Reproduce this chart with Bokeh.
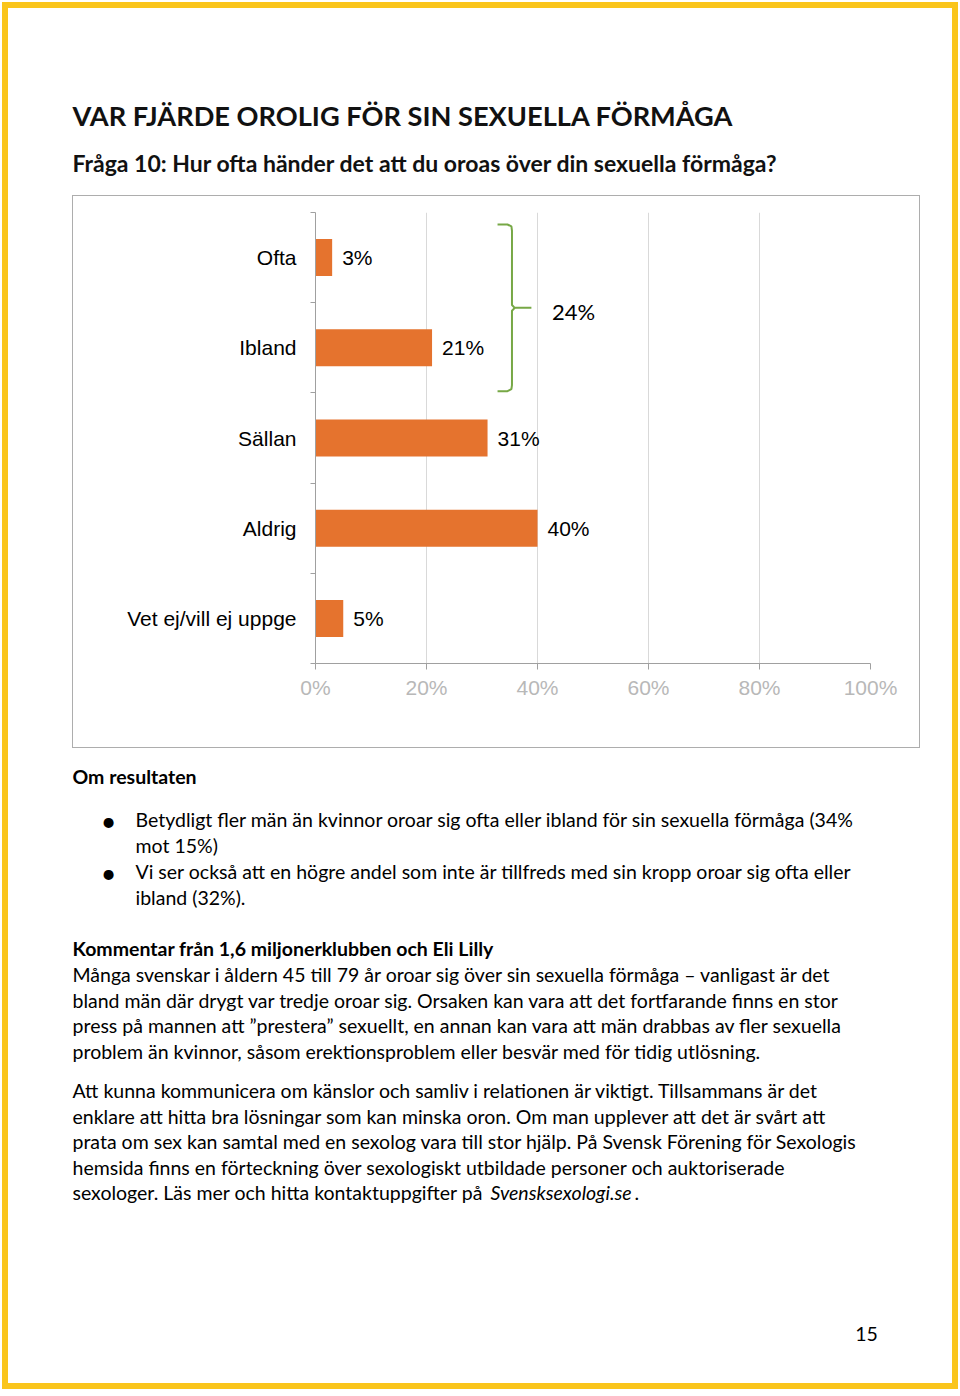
from bokeh.plotting import figure
from bokeh.models import (Range1d, LinearAxis, FixedTicker, InlineStyleSheet,
                          Label, ColumnDataSource, Grid)
from bokeh.core.properties import value
from bokeh.embed import file_html
from bokeh.resources import INLINE

# ---------------- data ----------------
categories = ["Ofta", "Ibland", "Sällan", "Aldrig", "Vet ej/vill ej uppge"]
values = [3, 21, 31, 40, 5]
x_ticks = [0, 20, 40, 60, 80, 100]
x_tick_labels = ["0%", "20%", "40%", "60%", "80%", "100%"]
bracket_group = ["Ofta", "Ibland"]

title = "VAR FJÄRDE OROLIG FÖR SIN SEXUELLA FÖRMÅGA"
subtitle = "Fråga 10: Hur ofta händer det att du oroas över din sexuella förmåga?"
heading1 = "Om resultaten"
bullets = [
    ["Betydligt fler män än kvinnor oroar sig ofta eller ibland för sin sexuella förmåga (34%",
     "mot 15%)"],
    ["Vi ser också att en högre andel som inte är tillfreds med sin kropp oroar sig ofta eller",
     "ibland (32%)."],
]
heading2 = "Kommentar från 1,6 miljonerklubben och Eli Lilly"
para1 = [
    "Många svenskar i åldern 45 till 79 år oroar sig över sin sexuella förmåga – vanligast är det",
    "bland män där drygt var tredje oroar sig. Orsaken kan vara att det fortfarande finns en stor",
    "press på mannen att ”prestera” sexuellt, en annan kan vara att män drabbas av fler sexuella",
    "problem än kvinnor, såsom erektionsproblem eller besvär med för tidig utlösning.",
]
para2 = [
    "Att kunna kommunicera om känslor och samliv i relationen är viktigt. Tillsammans är det",
    "enklare att hitta bra lösningar som kan minska oron. Om man upplever att det är svårt att",
    "prata om sex kan samtal med en sexolog vara till stor hjälp. På Svensk Förening för Sexologis",
    "hemsida finns en förteckning över sexologiskt utbildade personer och auktoriserade",
]
last_line = "sexologer. Läs mer och hitta kontaktuppgifter på "
link_text = "Svensksexologi.se"
page_number = "15"

# ---------------- styles ----------------
BODY_FONT = "Lato"
CHART_FONT = "Liberation Sans"
BAR_COLOR = "#E5732E"
AX_COLOR = "#A0A0A0"

n = len(categories)
centers = [i + 0.5 for i in range(n)]        # category slots, first at top
bounds = list(range(n + 1))

page_css = InlineStyleSheet(css="""
:host { position: relative; }
:host::after { content: ""; position: absolute; left: 2px; top: 2px;
  width: 944px; height: 1375px; border: 6px solid #FAC51C;
  z-index: 50; pointer-events: none; }
:host::before { content: ""; position: absolute; left: 72px; top: 195px;
  width: 846px; height: 551px; border: 1px solid #ADADAD;
  z-index: 50; pointer-events: none; }
""")

p = figure(frame_width=555, frame_height=451,
           min_border_left=315, min_border_right=90,
           min_border_top=212, min_border_bottom=733,
           x_range=Range1d(0, 100),
           y_range=Range1d(n, 0),
           x_axis_location=None, y_axis_location=None,
           toolbar_location=None, output_backend="svg",
           stylesheets=[page_css])
p.outline_line_color = None
p.background_fill_color = "white"
p.border_fill_color = "white"
p.xgrid.visible = False
p.ygrid.visible = False

grid = Grid(dimension=0, ticker=FixedTicker(ticks=x_ticks[1:]),
            grid_line_color="#D9D9D9", grid_line_width=1)
p.add_layout(grid)

# x axis
xaxis = LinearAxis(ticker=FixedTicker(ticks=x_ticks),
                   major_label_overrides={t: l for t, l in zip(x_ticks, x_tick_labels)},
                   axis_line_color=AX_COLOR, major_tick_line_color=AX_COLOR,
                   major_tick_out=6, major_tick_in=0, minor_tick_out=0, minor_tick_in=0,
                   major_label_standoff=6,
                   major_label_text_font=CHART_FONT, major_label_text_font_size="21px",
                   major_label_text_color="#B8B8B8")
p.add_layout(xaxis, "below")

# y axis: labels at category centres, small ticks at category boundaries
yaxis = LinearAxis(ticker=FixedTicker(ticks=centers, minor_ticks=bounds),
                   major_label_overrides={c: cat for c, cat in zip(centers, categories)},
                   axis_line_color=AX_COLOR, major_tick_line_color=None,
                   major_tick_out=0, major_tick_in=0,
                   minor_tick_line_color=AX_COLOR, minor_tick_out=5, minor_tick_in=0,
                   major_label_standoff=14,
                   major_label_text_font=CHART_FONT, major_label_text_font_size="21px",
                   major_label_text_color="black")
p.add_layout(yaxis, "left")

# bars
src = ColumnDataSource(dict(pos=centers, val=values,
                            lab=[f"{v}%" for v in values]))
p.hbar(y="pos", left=0, right="val", height=0.41, source=src,
       fill_color=BAR_COLOR, line_color=None)
p.text(x="val", y="pos", text="lab", source=src, x_offset=10,
       text_baseline="middle", text_align="left",
       text_font=value(CHART_FONT), text_font_size="21px", text_color="black")

# bracket for Ofta + Ibland
bx = [[32.8, 34.6, 35.3, 35.4, 35.4, 35.9, 38.9],
      [35.9, 35.4, 35.4, 35.3, 34.6, 32.8]]
by = [[0.133, 0.133, 0.155, 0.20, 1.025, 1.057, 1.057],
      [1.057, 1.089, 1.914, 1.959, 1.981, 1.981]]
p.multi_line(xs=bx, ys=by, line_color="#77A846", line_width=2)
group_total = sum(v for c, v in zip(categories, values) if c in bracket_group)
p.add_layout(Label(x=46.5, y=1.10, text=f"{group_total}%", text_align="center",
                   text_baseline="alphabetic", text_font=BODY_FONT,
                   text_font_size="22px", text_color="black"))


# ---------------- page text (canvas units, placed in side panels) ----------------
def lab(text, px, py, size, style="normal", align="left", font=BODY_FONT,
        color="black", side="below"):
    p.add_layout(Label(x=px, y=py, x_units="canvas", y_units="canvas",
                       text=text, text_font=font, text_font_size=f"{size}px",
                       text_font_style=style, text_align=align,
                       text_baseline="alphabetic", text_color=color), side)


lab(title, 72, 115, 27.2, "bold", color="#111111", side="above")
lab(subtitle, 72, 162, 23, "bold", color="#111111", side="above")
lab(heading1, 72, 776, 19.5, "bold")

bullet_base = [819, 871]
for (l1, l2), yb in zip(bullets, bullet_base):
    lab("•", 108, yb + 1, 27, align="center")
    lab(l1, 135, yb, 19.5)
    lab(l2, 135, yb + 26, 19.5)

lab(heading2, 72, 948, 19.5, "bold")
for i, line in enumerate(para1):
    lab(line, 72, 974 + i * 25.5, 19.5)
for i, line in enumerate(para2):
    lab(line, 72, 1090 + i * 25.5, 19.5)
lab(last_line, 72, 1192, 19.5)
lab(link_text, 490, 1192, 19.5, "italic")
lab(".", 634, 1192, 19.5)
lab(page_number, 866, 1333, 19.5, align="center")

open("out.html", "w").write(file_html(p, INLINE))
